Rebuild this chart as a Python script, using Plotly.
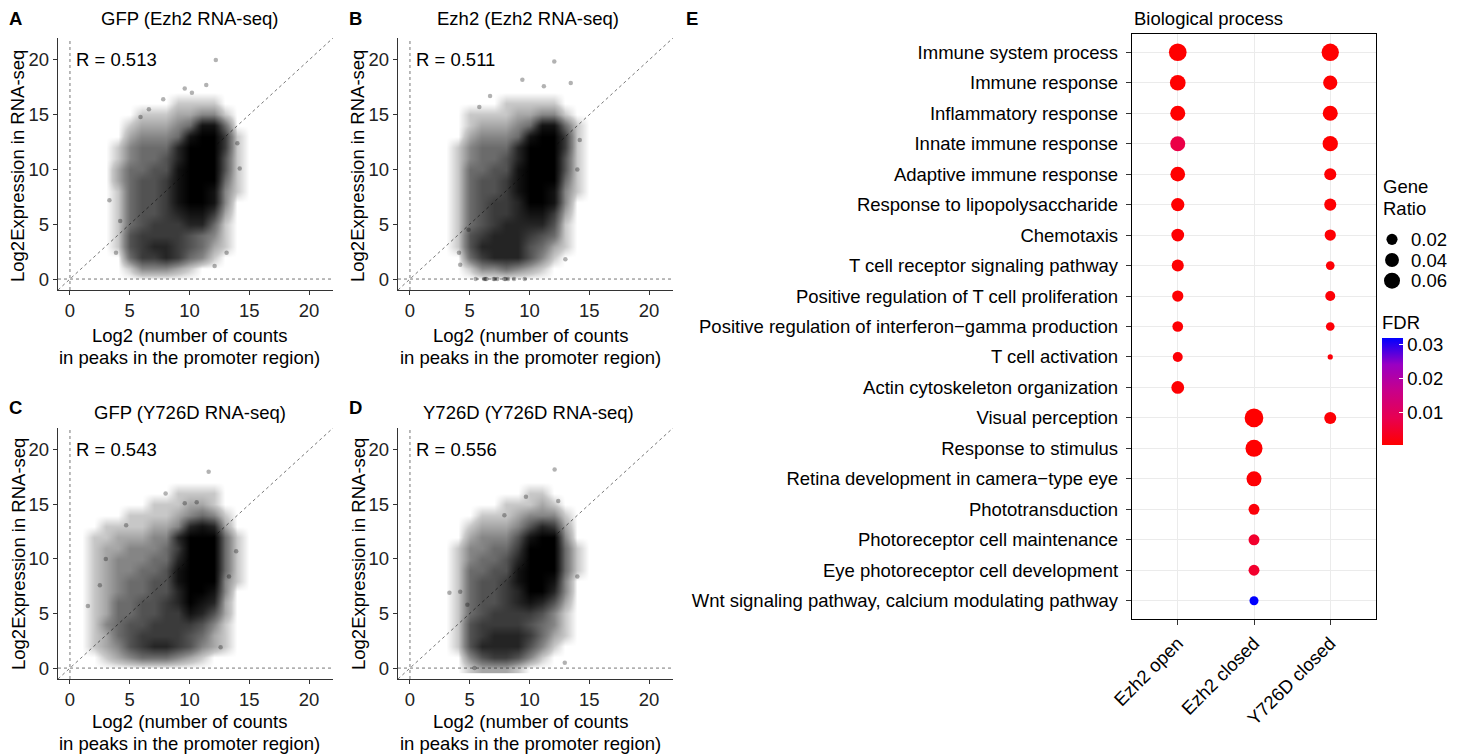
import plotly.graph_objects as go

W, H = 1465, 756
FONT = "Liberation Sans, Arial, sans-serif"
FS = 18.5

# ---------------- Panels A-D : data ----------------
panel_letters = ["A", "B", "C", "D"]
panel_titles = ["GFP (Ezh2 RNA-seq)", "Ezh2 (Ezh2 RNA-seq)",
                "GFP (Y726D RNA-seq)", "Y726D (Y726D RNA-seq)"]
r_labels = ["R = 0.513", "R = 0.511", "R = 0.543", "R = 0.556"]
x_axis_title = ["Log2 (number of counts", "in peaks in the promoter region)"]
y_axis_title = "Log2Expression in RNA-seq"
scatter_ticks = [0, 5, 10, 15, 20]

# estimated point density (0 = empty .. 9 = solid black) on a 1-unit grid
density_x = list(range(1, 16))      # x = 1 .. 15
density_y = list(range(18, -1, -1))  # rows listed from y = 18 down to y = 0

density_A = [
    "000000000000000", "000000000000000", "000000001111000", "000001112233100",
    "000012223488400", "000023334899610", "000134447999610", "000134457999510",
    "000244558999510", "000245568999410", "000145568998310", "000145568998300",
    "000145567886200", "000145666774100", "000156666543100", "000156776542100",
    "000046676431000", "000013332100000", "000000000000000"]
density_B = [
    "000000000000000", "000000000000000", "000000011111000", "000011112233100",
    "000012223488410", "000023334899610", "000134447999610", "000134457999510",
    "000144558999510", "000145568999410", "000145568998310", "000145667998300",
    "000145667886200", "000145677775100", "000156777654100", "000157777542100",
    "000046777531000", "000013343210000", "000000000000000"]
density_C = [
    "000000000000000", "000000000000000", "000000001111000", "000000111221000",
    "000011112343100", "001111223787200", "011222337999410", "012233346999410",
    "012333447999410", "012334458999410", "012344558999310", "012344557998300",
    "012445567987200", "012445566875200", "013455666653100", "012456666542100",
    "012356776532100", "001234443210000", "000000000000000"]
density_D = [
    "000000000000000", "000000000000000", "000000000110000", "000000011121000",
    "000001112333100", "000012223576200", "000023335899300", "000133446999410",
    "000134457999410", "000144558999410", "000145568998300", "000145567997300",
    "000145567875200", "000145666653100", "000156666543100", "000156777642100",
    "000157777531000", "000035665310000", "000012221000000"]

# isolated points
outliers_A_x = [12.2, 7.8, 9.6, 10.2, 11.4, 3.3, 4.2, 3.85, 14.2, 13.1, 12.1, 6.6, 5.9, 14.0]
outliers_A_y = [20.0, 16.4, 17.4, 17.0, 17.7, 7.2, 5.3, 2.4, 10.1, 2.4, 1.2, 15.5, 14.8, 12.4]
outliers_B_x = [12.07, 9.4, 11.2, 6.7, 13.45, 5.8, 14.2, 14.0, 4.9, 4.1, 4.2, 13.0,
                5.5, 6.2, 6.3, 6.4, 7.0, 7.1, 7.3, 7.9, 8.0, 8.2, 8.7, 9.6]
outliers_B_y = [19.85, 18.2, 17.6, 16.7, 17.9, 15.7, 12.7, 10.0, 4.5, 2.4, 1.3, 1.8,
                0, 0, 0, 0, 0, 0, 0, 0, 0, 0, 0, 0]
outliers_C_x = [11.6, 8.0, 1.5, 4.7, 9.6, 10.6, 13.9, 13.3, 12.6, 2.5, 3.0]
outliers_C_y = [18.0, 16.0, 5.7, 13.1, 15.1, 15.2, 10.7, 8.4, 1.9, 7.6, 10.0]
outliers_D_x = [12.1, 9.7, 7.9, 4.2, 4.8, 14.0, 12.95, 5.4, 3.3, 12.4]
outliers_D_y = [18.2, 15.7, 14.0, 7.0, 5.8, 8.4, 0.5, 0.0, 6.9, 15.3]

# ---------------- Panel E : data ----------------
terms = [
    "Immune system process", "Immune response", "Inflammatory response",
    "Innate immune response", "Adaptive immune response",
    "Response to lipopolysaccharide", "Chemotaxis",
    "T cell receptor signaling pathway",
    "Positive regulation of T cell proliferation",
    "Positive regulation of interferon\u2212gamma production",
    "T cell activation", "Actin cytoskeleton organization",
    "Visual perception", "Response to stimulus",
    "Retina development in camera\u2212type eye", "Phototransduction",
    "Photoreceptor cell maintenance", "Eye photoreceptor cell development",
    "Wnt signaling pathway, calcium modulating pathway"]
groups = ["Ezh2 open", "Ezh2 closed", "Y726D closed"]

ratio_ezh2_open = [0.079, 0.057, 0.050, 0.050, 0.047, 0.035, 0.031, 0.026, 0.021,
                   0.018, 0.014, 0.031, None, None, None, None, None, None, None]
fdr_ezh2_open = [0.0006, 0.0006, 0.0006, 0.0075, 0.0006, 0.0007, 0.0008, 0.0008, 0.0009,
                 0.0010, 0.0012, 0.0009, None, None, None, None, None, None, None]
ratio_ezh2_closed = [None] * 12 + [0.092, 0.071, 0.050, 0.019, 0.019, 0.019, 0.010]
fdr_ezh2_closed = [None] * 12 + [0.0006, 0.0007, 0.0010, 0.0015, 0.0050, 0.0050, 0.0318]
ratio_y726d_closed = [0.075, 0.043, 0.050, 0.053, 0.026, 0.026, 0.021, 0.009, 0.014,
                      0.009, 0.003, None, 0.026, None, None, None, None, None, None]
fdr_y726d_closed = [0.0006, 0.0007, 0.0006, 0.0006, 0.0009, 0.0009, 0.0010, 0.0012, 0.0012,
                    0.0013, 0.0015, None, 0.0012, None, None, None, None, None, None]

size_legend_breaks = [0.02, 0.04, 0.06]
fdr_ticks = [0.01, 0.02, 0.03]

# ---------------- helpers ----------------
def px(x):
    return x / W

def py(y):
    return 1 - y / H

def diameter(v):  # ggplot-like area scale: ratio 0.003..0.092 -> 5.2..18.7 px
    return 5.2 + 13.5 * ((v - 0.003) / 0.089) ** 0.5

lab_red_blue = [[0.0, "#FF0000"], [0.25, "#E80050"], [0.5, "#C90088"],
                [0.75, "#9A00C3"], [1.0, "#0000FF"]]
density_scale = [[0.0, "rgba(0,0,0,0)"], [0.111, "rgba(0,0,0,0.22)"],
                 [0.333, "rgba(0,0,0,0.48)"], [0.556, "rgba(0,0,0,0.68)"],
                 [0.778, "rgba(0,0,0,0.86)"], [1.0, "rgba(0,0,0,1)"]]

fig = go.Figure()

boxes = [  # left, right, top, bottom (pixels)
    (58, 333, 38, 290), (398, 673, 38, 290),
    (58, 333, 428, 679), (398, 673, 428, 679)]
densities = [density_A, density_B, density_C, density_D]
outliers = [(outliers_A_x, outliers_A_y), (outliers_B_x, outliers_B_y),
            (outliers_C_x, outliers_C_y), (outliers_D_x, outliers_D_y)]
letter_pos = [(7, 18), (347, 18), (7, 407), (347, 407)]
title_pos = [(190, 18), (528, 18), (190, 412), (528, 412)]
xtitle_pos = [(190, 335, 357), (530, 335, 357), (190, 721, 743), (530, 721, 743)]
ytitle_pos = [(18, 166), (358, 166), (18, 554), (358, 554)]

annotations = []
shapes = []
layout_axes = {}
for i in range(4):
    n = i + 1
    xa = "x" if n == 1 else f"x{n}"
    ya = "y" if n == 1 else f"y{n}"
    l, r, t, b = boxes[i]
    axis_common = dict(range=[-1, 22], tickvals=scatter_ticks, showgrid=False,
                       zeroline=False, showline=True, linecolor="#333", linewidth=1.3,
                       ticks="outside", ticklen=4, tickcolor="#333", tickwidth=1,
                       automargin=False,
                       tickfont=dict(family=FONT, size=FS, color="#222"))
    layout_axes["xaxis" if n == 1 else f"xaxis{n}"] = dict(
        domain=[px(l), px(r)], anchor=ya, **axis_common)
    layout_axes["yaxis" if n == 1 else f"yaxis{n}"] = dict(
        domain=[py(b), py(t)], anchor=xa, **axis_common)

    z = [[int(c) for c in row] for row in densities[i]]
    fig.add_trace(go.Heatmap(
        x=density_x, y=density_y, z=z, zmin=0, zmax=9, zsmooth="best",
        colorscale=density_scale, showscale=False, hoverinfo="skip",
        xaxis=xa, yaxis=ya))
    ox, oy = outliers[i]
    fig.add_trace(go.Scatter(
        x=ox, y=oy, mode="markers", xaxis=xa, yaxis=ya, hoverinfo="skip",
        marker=dict(size=4.5, color="rgba(0,0,0,0.3)", line=dict(width=0))))

    dot = dict(color="#777", width=1, dash="dot")
    shapes += [
        dict(type="line", xref=xa, yref=ya, x0=0, x1=0, y0=-1, y1=22, line=dot, layer="below"),
        dict(type="line", xref=xa, yref=ya, x0=-1, x1=22, y0=0, y1=0, line=dot, layer="below"),
        dict(type="line", xref=xa, yref=ya, x0=-1, x1=22, y0=-1, y1=22, line=dot, layer="below"),
    ]

    lx, ly = letter_pos[i]
    annotations.append(dict(text=f"<b>{panel_letters[i]}</b>", x=px(lx), y=py(ly),
                            xref="paper", yref="paper", xanchor="left", yanchor="middle",
                            showarrow=False, font=dict(family=FONT, size=FS, color="black")))
    tx, ty = title_pos[i]
    annotations.append(dict(text=panel_titles[i], x=px(tx), y=py(ty), xref="paper",
                            yref="paper", xanchor="center", yanchor="middle",
                            showarrow=False, font=dict(family=FONT, size=FS, color="black")))
    annotations.append(dict(text=r_labels[i], x=0.3, y=20, xref=xa, yref=ya,
                            xanchor="left", yanchor="middle", showarrow=False,
                            font=dict(family=FONT, size=FS, color="black")))
    cx, y1, y2 = xtitle_pos[i]
    for line_text, yy in zip(x_axis_title, (y1, y2)):
        annotations.append(dict(text=line_text, x=px(cx), y=py(yy), xref="paper",
                                yref="paper", xanchor="center", yanchor="middle",
                                showarrow=False,
                                font=dict(family=FONT, size=FS, color="black")))
    yx, yy = ytitle_pos[i]
    annotations.append(dict(text=y_axis_title, x=px(yx), y=py(yy), xref="paper",
                            yref="paper", xanchor="center", yanchor="middle",
                            textangle=-90, showarrow=False,
                            font=dict(family=FONT, size=FS, color="black")))

# ---------------- Panel E ----------------
for g, ratios, fdrs in zip(groups,
                           [ratio_ezh2_open, ratio_ezh2_closed, ratio_y726d_closed],
                           [fdr_ezh2_open, fdr_ezh2_closed, fdr_y726d_closed]):
    idx = [k for k, v in enumerate(ratios) if v is not None]
    fig.add_trace(go.Scatter(
        x=[g] * len(idx), y=[terms[k] for k in idx], mode="markers",
        xaxis="x5", yaxis="y5", hoverinfo="skip",
        marker=dict(size=[diameter(ratios[k]) for k in idx], sizemode="diameter",
                    color=[fdrs[k] for k in idx], coloraxis="coloraxis",
                    line=dict(width=0), opacity=1)))

E_l, E_r, E_t, E_b = 1132, 1376, 34, 619
eaxis = dict(showgrid=True, gridcolor="#EBEBEB", gridwidth=1.3, zeroline=False,
             showline=True, linecolor="black", linewidth=1.4, mirror=True,
             ticks="outside", ticklen=5, tickcolor="#333", tickwidth=1,
             automargin=False,
             tickfont=dict(family=FONT, size=FS, color="black"))
layout_axes["xaxis5"] = dict(domain=[px(E_l), px(E_r)], anchor="y5", type="category",
                             categoryorder="array", categoryarray=groups,
                             range=[-0.6, 2.6], tickangle=-45, **eaxis)
layout_axes["yaxis5"] = dict(domain=[py(E_b), py(E_t)], anchor="x5", type="category",
                             categoryorder="array", categoryarray=terms,
                             range=[len(terms) - 0.4, -0.6], ticklabelstandoff=4,
                             **eaxis)

# size legend (Gene Ratio) on its own hidden axes
fig.add_trace(go.Scatter(
    x=[0] * len(size_legend_breaks), y=list(range(len(size_legend_breaks))),
    mode="markers", xaxis="x6", yaxis="y6", hoverinfo="skip",
    marker=dict(size=[diameter(v) for v in size_legend_breaks], sizemode="diameter",
                color="#000000", opacity=1, line=dict(width=0))))
hidden = dict(visible=False, showgrid=False, zeroline=False, fixedrange=True,
              automargin=False)
layout_axes["xaxis6"] = dict(domain=[px(1382), px(1402)], anchor="y6", range=[-1, 1], **hidden)
layout_axes["yaxis6"] = dict(domain=[py(291), py(229)], anchor="x6",
                             range=[len(size_legend_breaks) - 0.5, -0.5], **hidden)
for k, v in enumerate(size_legend_breaks):
    annotations.append(dict(text=f"{v:.2f}", x=px(1409), y=k, xref="paper", yref="y6",
                            xanchor="left", yanchor="middle", showarrow=False,
                            font=dict(family=FONT, size=FS, color="black")))
for txt, yy in (("Gene", 186), ("Ratio", 208)):
    annotations.append(dict(text=txt, x=px(1381), y=py(yy), xref="paper", yref="paper",
                            xanchor="left", yanchor="middle", showarrow=False,
                            font=dict(family=FONT, size=FS, color="black")))
annotations.append(dict(text="<b>E</b>", x=px(684), y=py(18), xref="paper", yref="paper",
                        xanchor="left", yanchor="middle", showarrow=False,
                        font=dict(family=FONT, size=FS, color="black")))
annotations.append(dict(text="Biological process", x=px(1132), y=py(18), xref="paper",
                        yref="paper", xanchor="left", yanchor="middle", showarrow=False,
                        font=dict(family=FONT, size=FS, color="black")))

fig.update_layout(
    template="none",
    width=W, height=H, margin=dict(l=0, r=0, t=0, b=0, pad=0, autoexpand=False),
    paper_bgcolor="white", plot_bgcolor="white", showlegend=False,
    font=dict(family=FONT, size=FS, color="black"),
    annotations=annotations, shapes=shapes,
    coloraxis=dict(
        colorscale=lab_red_blue,
        colorbar=dict(
            x=px(1382), xanchor="left", y=py(378.5), yanchor="middle",
            len=133 / H, lenmode="fraction", thickness=21, thicknessmode="pixels",
            outlinewidth=0, xpad=0, ypad=0,
            tickvals=fdr_ticks, ticktext=[f"{v:.2f}" for v in fdr_ticks],
            ticks="inside", ticklen=4, tickcolor="white",
            tickfont=dict(family=FONT, size=FS, color="black"),
            title=dict(text="FDR", side="top",
                       font=dict(family=FONT, size=FS, color="black")))),
    **layout_axes)

fig.write_html("out.html", config={"displayModeBar": False})
with open("out.html", "r", encoding="utf-8") as f:
    html = f.read()
html = html.replace("<head>", "<head><style>body{margin:0;padding:0;}</style>", 1)
with open("out.html", "w", encoding="utf-8") as f:
    f.write(html)
